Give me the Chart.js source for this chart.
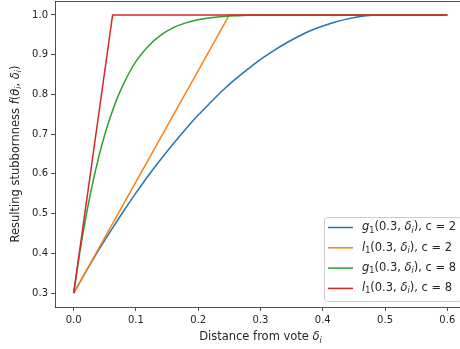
<!DOCTYPE html>
<html>
<head>
<meta charset="utf-8">
<script src="https://cdn.jsdelivr.net/npm/chart.js@4.4.0/dist/chart.umd.min.js"></script>
<style>
  html, body { margin: 0; padding: 0; background: #fff; overflow: hidden; }
  #wrap { width: 460px; height: 349px; overflow: hidden; }
</style>
</head>
<body>
<div id="wrap"><canvas id="chart" width="470" height="349"></canvas></div>
<script>
// distance samples and stubbornness values for each curve
const distG1c2 = [0, 0.02, 0.04, 0.06, 0.08, 0.10, 0.12, 0.14, 0.16, 0.18, 0.20, 0.22, 0.24, 0.26,
                  0.28, 0.30, 0.32, 0.34, 0.36, 0.38, 0.40, 0.42, 0.44, 0.46, 0.48, 0.50, 0.60];
const g1c2 = [0.300, 0.355, 0.408, 0.458, 0.506, 0.552, 0.596, 0.637, 0.676, 0.713, 0.748, 0.780, 0.811, 0.839,
              0.864, 0.888, 0.909, 0.928, 0.945, 0.960, 0.972, 0.982, 0.990, 0.996, 0.999, 1.000, 1.000];

const distL1c2 = [0, 0.25, 0.60];
const l1c2 = [0.3, 1.0, 1.0];

const distG1c8 = [0, 0.01, 0.02, 0.03, 0.04, 0.05, 0.06, 0.07, 0.08, 0.09, 0.10, 0.12, 0.14, 0.16,
                  0.18, 0.20, 0.22, 0.24, 0.26, 0.28, 0.30, 0.60];
const g1c8 = [0.300, 0.404, 0.495, 0.573, 0.641, 0.699, 0.748, 0.791, 0.826, 0.857, 0.883, 0.922, 0.949, 0.968,
              0.980, 0.988, 0.993, 0.996, 0.998, 0.999, 1.000, 1.000];

const distL1c8 = [0, 0.0625, 0.60];
const l1c8 = [0.3, 1.0, 1.0];

const xTicks = [0.0, 0.1, 0.2, 0.3, 0.4, 0.5, 0.6];
const yTicks = [0.3, 0.4, 0.5, 0.6, 0.7, 0.8, 0.9, 1.0];

const funcNames = ['g', 'l', 'g', 'l'];
const cValues = [2, 2, 8, 8];
const colors = ['#1f77b4', '#ff7f0e', '#2ca02c', '#d62728'];

const FONT = '"DejaVu Sans", sans-serif';
const TEXT = '#262626';
const LABEL_SIZE = 11.5;

function toPoints(xs, ys) {
    return xs.map((x, i) => ({ x: x, y: ys[i] }));
}

// draws a run of text pieces, some italic, some subscript
function drawRich(ctx, parts, x, y, align) {
    const fontOf = p => (p.it ? 'italic ' : '') + (p.sub ? LABEL_SIZE * 0.7 : LABEL_SIZE) + 'px ' + FONT;
    let total = 0;
    parts.forEach(p => { ctx.font = fontOf(p); total += ctx.measureText(p.t).width; });
    let cx = align === 'center' ? x - total / 2 : x;
    ctx.textAlign = 'left';
    ctx.textBaseline = 'middle';
    parts.forEach(p => {
        ctx.font = fontOf(p);
        ctx.fillText(p.t, cx, y + (p.sub ? 3 : 0));
        cx += ctx.measureText(p.t).width;
    });
}

function legendParts(i) {
    return [
        { t: funcNames[i], it: true }, { t: '1', sub: true }, { t: '(0.3, ' },
        { t: 'δ', it: true }, { t: 'i', it: true, sub: true }, { t: ')' },
        { t: ', c = ' + cValues[i] }
    ];
}

const decorations = {
    id: 'decorations',
    afterDraw(chart) {
        const { ctx, chartArea: a } = chart;
        ctx.save();
        ctx.strokeStyle = '#222';
        ctx.lineWidth = 0.8;
        ctx.beginPath();
        ctx.moveTo(a.left, a.top + 0.5);
        ctx.lineTo(a.right, a.top + 0.5);
        ctx.stroke();

        ctx.fillStyle = TEXT;
        // x axis title
        drawRich(ctx, [{ t: 'Distance from vote ' }, { t: 'δ', it: true }, { t: 'i', it: true, sub: true }],
            260.5, 337.5, 'center');
        // y axis title
        ctx.save();
        ctx.translate(16, (a.top + a.bottom) / 2);
        ctx.rotate(-Math.PI / 2);
        drawRich(ctx, [
            { t: 'Resulting stubbornness ' }, { t: 'f', it: true }, { t: '(' }, { t: 'θ', it: true },
            { t: 'i', it: true, sub: true }, { t: ', ' }, { t: 'δ', it: true }, { t: 'i', it: true, sub: true }, { t: ')' }
        ], 0, 0, 'center');
        ctx.restore();

        // legend box, lower right inside the axes
        const bx = 324.5, by = 217.5, bw = 137, bh = 84;
        ctx.beginPath();
        ctx.roundRect(bx, by, bw, bh, 3);
        ctx.fillStyle = 'rgba(255,255,255,0.8)';
        ctx.fill();
        ctx.strokeStyle = '#cccccc';
        ctx.lineWidth = 1;
        ctx.stroke();
        for (let i = 0; i < 4; i++) {
            const ly = 227.5 + i * 20.3;
            ctx.strokeStyle = colors[i];
            ctx.lineWidth = 1.5;
            ctx.beginPath();
            ctx.moveTo(328, ly);
            ctx.lineTo(353, ly);
            ctx.stroke();
            ctx.fillStyle = TEXT;
            drawRich(ctx, legendParts(i), 362, ly, 'left');
        }
        ctx.restore();
    }
};

const series = [
    toPoints(distG1c2, g1c2),
    toPoints(distL1c2, l1c2),
    toPoints(distG1c8, g1c8),
    toPoints(distL1c8, l1c8)
];

new Chart(document.getElementById('chart'), {
    type: 'line',
    data: {
        datasets: series.map((pts, i) => ({
            data: pts,
            borderColor: colors[i],
            borderWidth: 1.5,
            pointRadius: 0,
            fill: false,
            // the g curves are smooth, the l ones are straight pieces
            cubicInterpolationMode: funcNames[i] === 'g' ? 'monotone' : 'default',
            tension: 0,
            order: 3 - i
        }))
    },
    options: {
        responsive: false,
        animation: false,
        devicePixelRatio: 1,
        layout: { padding: { top: 1, right: 4, left: 0, bottom: 0 } },
        plugins: { legend: { display: false }, tooltip: { enabled: false } },
        scales: {
            x: {
                type: 'linear',
                min: -0.03,
                max: 0.63,
                afterBuildTicks: s => { s.ticks = xTicks.map(v => ({ value: v })); },
                afterFit: s => { s.height = 42; s.paddingLeft = 0; s.paddingRight = 0; },
                ticks: { callback: v => v.toFixed(1), color: TEXT, font: { family: FONT, size: 10 }, padding: 3, maxRotation: 0 },
                grid: { drawOnChartArea: false, tickLength: 4, tickColor: '#222', tickWidth: 0.8 },
                border: { color: '#222', width: 0.8 }
            },
            y: {
                type: 'linear',
                min: 0.265,
                max: 1.035,
                afterBuildTicks: s => { s.ticks = yTicks.map(v => ({ value: v })); },
                afterFit: s => { s.width = 55; s.paddingTop = 0; s.paddingBottom = 0; },
                ticks: { callback: v => v.toFixed(1), color: TEXT, font: { family: FONT, size: 10 }, padding: 3 },
                grid: { drawOnChartArea: false, tickLength: 4, tickColor: '#222', tickWidth: 0.8 },
                border: { color: '#222', width: 0.8 }
            }
        }
    },
    plugins: [decorations]
});
</script>
</body>
</html>
